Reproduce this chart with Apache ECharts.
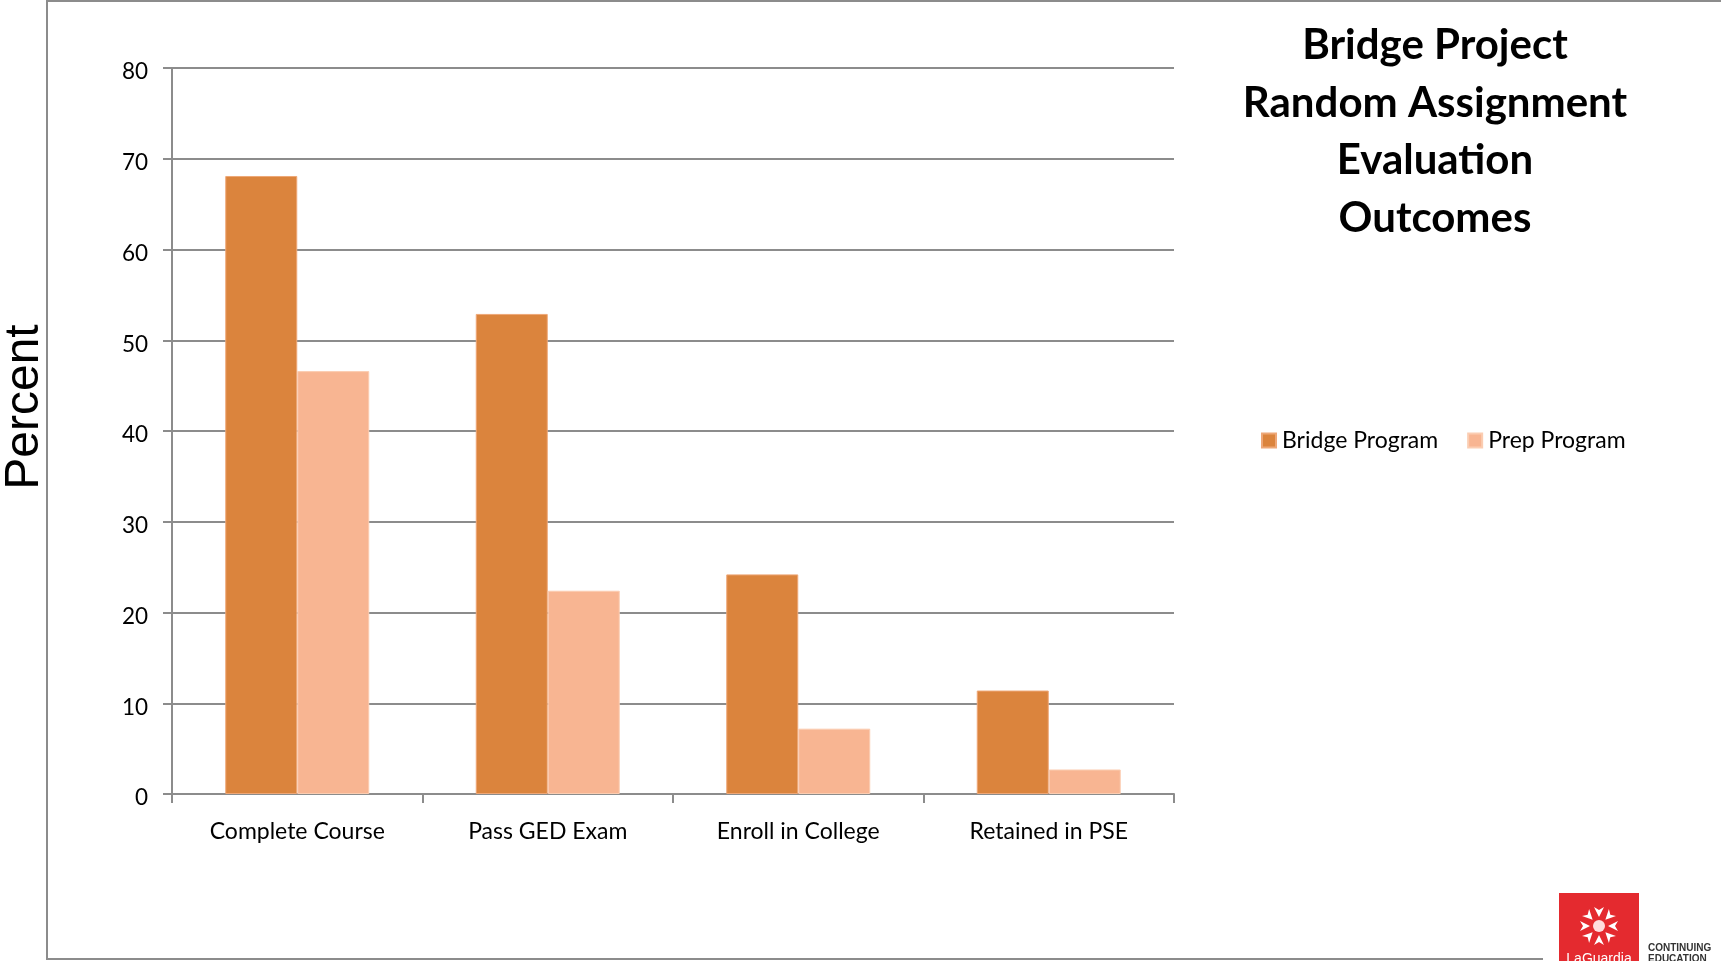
<!DOCTYPE html>
<html>
<head>
<meta charset="utf-8">
<script src="https://cdn.jsdelivr.net/npm/echarts@6/dist/echarts.min.js"></script>
<style>
html,body{margin:0;padding:0;background:#fff;}
#chart{width:1721px;height:961px;}
</style>
</head>
<body>
<div id="chart"></div>
<script>
const categories = ['Complete Course', 'Pass GED Exam', 'Enroll in College', 'Retained in PSE'];
const bridgeProgram = [68.1, 52.9, 24.2, 11.4];
const prepProgram = [46.6, 22.4, 7.2, 2.7];
const seriesNames = ['Bridge Program', 'Prep Program'];
const titleLines = ['Bridge Project', 'Random Assignment', 'Evaluation', 'Outcomes'];
const yAxisTitle = 'Percent';

const gray = '#8c8c8c';
const font = 'Lato, "Open Sans", sans-serif';

// logo petals
const petals = [];
for (let i = 0; i < 8; i++) {
  const a = i * Math.PI / 4;
  const cx = 1599, cy = 926, r1 = 9, r2 = 19;
  const ca = Math.cos(a), sa = Math.sin(a);
  const px = -sa, py = ca;
  const pts = [
    [cx + ca * r1, cy + sa * r1],
    [cx + ca * r2 + px * 5, cy + sa * r2 + py * 5],
    [cx + ca * (r2 - 3), cy + sa * (r2 - 3)],
    [cx + ca * r2 - px * 5, cy + sa * r2 - py * 5]
  ];
  petals.push({type: 'polygon', shape: {points: pts}, style: {fill: '#fff'}, z: 12});
}

const chart = echarts.init(document.getElementById('chart'));
chart.setOption({
  animation: false,
  backgroundColor: '#fff',
  grid: {left: 172, right: 547, top: 68, bottom: 167, containLabel: false},
  legend: {
    data: seriesNames,
    left: 1261, top: 429, padding: 0,
    itemWidth: 14, itemHeight: 14, itemGap: 29,
    icon: 'rect',
    textStyle: {fontFamily: font, fontSize: 23, color: '#000', padding: [0, 0, 0, 1]}
  },
  xAxis: {
    type: 'category',
    data: categories,
    axisLine: {show: true, lineStyle: {color: gray, width: 2}},
    axisTick: {show: true, length: 9, lineStyle: {color: gray, width: 2}},
    axisLabel: {fontFamily: font, fontSize: 23, color: '#000', margin: 26}
  },
  yAxis: {
    type: 'value',
    min: 0, max: 80, interval: 10,
    axisLine: {show: true, lineStyle: {color: gray, width: 2}},
    axisTick: {show: true, length: 9, lineStyle: {color: gray, width: 2}},
    axisLabel: {
      margin: 24,
      formatter: '{v|{value}}',
      rich: {v: {fontFamily: font, fontSize: 22.5, color: '#000', padding: [8, 0, 0, 0]}}
    },
    splitLine: {show: true, lineStyle: {color: gray, width: 2}}
  },
  series: [
    {name: seriesNames[0], type: 'bar', data: bridgeProgram, barWidth: 72, barGap: '0%',
     itemStyle: {color: '#DB843D', borderColor: '#eea777', borderWidth: 1}},
    {name: seriesNames[1], type: 'bar', data: prepProgram, barWidth: 72, barGap: '0%',
     itemStyle: {color: '#F8B592', borderColor: '#fbcdb2', borderWidth: 1}}
  ],
  graphic: [
    {type: 'rect', shape: {x: 47, y: 1, width: 1720, height: 958}, style: {fill: 'none', stroke: gray, lineWidth: 2}, z: 0, silent: true},
    {type: 'text', x: 1435, y: 17, style: {text: titleLines.join('\n'), font: 'bold 42px ' + font, fill: '#000', textAlign: 'center', textVerticalAlign: 'top', lineHeight: 57.5}, z: 10},
    {type: 'text', x: 25, y: 407, rotation: Math.PI / 2, style: {text: yAxisTitle, font: '48px "Liberation Sans", Arial, sans-serif', fill: '#000', textAlign: 'center', textVerticalAlign: 'middle'}, z: 10},
    {type: 'rect', shape: {x: 1543, y: 885, width: 178, height: 76}, style: {fill: '#fff'}, z: 11},
    {type: 'rect', shape: {x: 1559, y: 893, width: 80, height: 70}, style: {fill: '#E42A2F'}, z: 11},
    {type: 'circle', shape: {cx: 1599, cy: 926, r: 6}, style: {fill: '#ffdddd'}, z: 12},
    ...petals,
    {type: 'text', x: 1599, y: 952, style: {text: 'LaGuardia', font: '14px "Liberation Sans", sans-serif', fill: '#fff', textAlign: 'center', textVerticalAlign: 'top'}, z: 12},
    {type: 'text', x: 1648, y: 943, style: {text: 'CONTINUING\nEDUCATION', font: 'bold 10px "Liberation Sans", sans-serif', fill: '#333', textAlign: 'left', textVerticalAlign: 'top', lineHeight: 11}, z: 12}
  ]
});
</script>
</body>
</html>
